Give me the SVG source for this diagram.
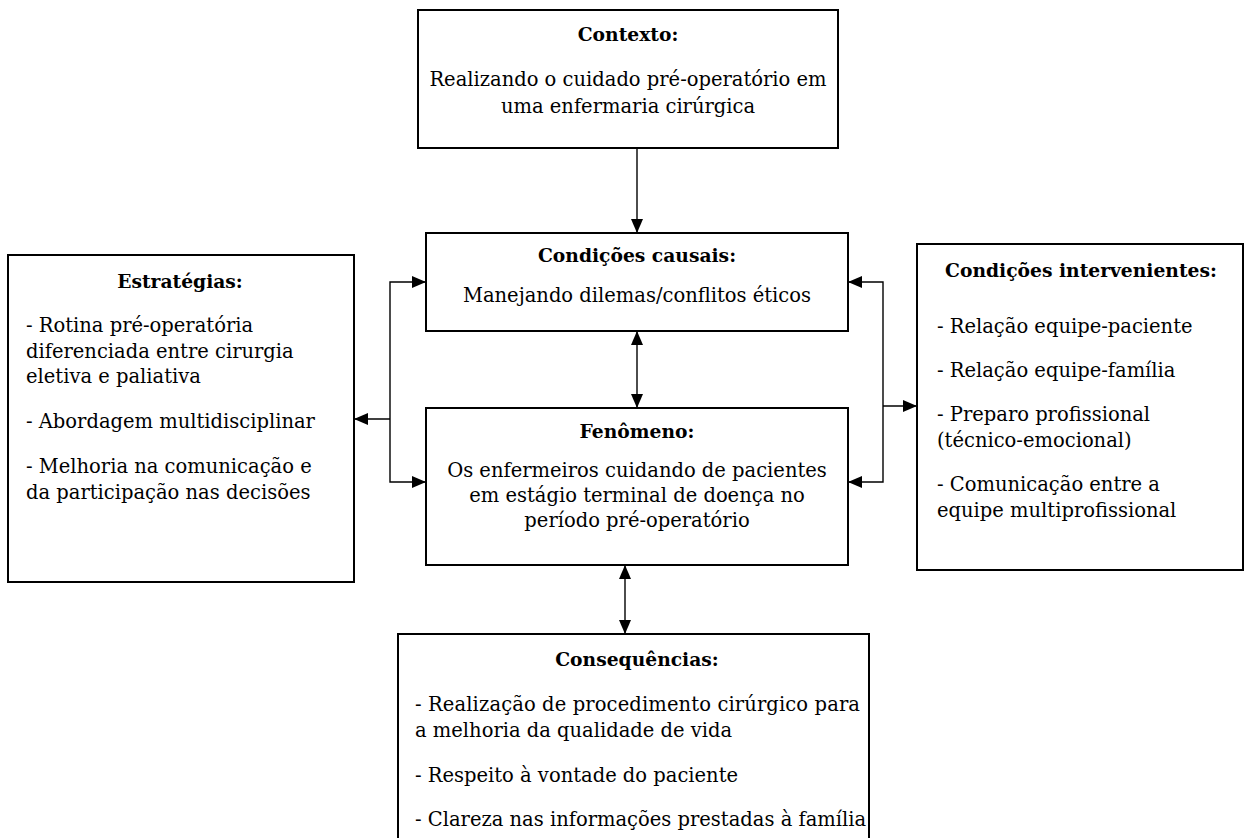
<svg xmlns="http://www.w3.org/2000/svg" width="1246" height="838" viewBox="0 0 1246 838">
<style>
.box{fill:#fff;stroke:#000;stroke-width:2}
.t{font-family:"DejaVu Serif","Liberation Serif",serif;font-size:19.5px;fill:#000}
.b{font-weight:bold;font-size:18.7px}
.c{text-anchor:middle}
.ln{fill:none;stroke:#000;stroke-width:1.4}
</style>
<defs>
<marker id="ah" markerUnits="userSpaceOnUse" markerWidth="14" markerHeight="12" refX="14" refY="6" orient="auto-start-reverse">
<path d="M0,0 L14,6 L0,12 Z" fill="#000"/>
</marker>
</defs>
<rect width="1246" height="838" fill="#fff"/>
<g id="connectors">
<line class="ln" x1="637" y1="148" x2="637" y2="233" marker-end="url(#ah)"/>
<line class="ln" x1="637" y1="331" x2="637" y2="408" marker-start="url(#ah)" marker-end="url(#ah)"/>
<line class="ln" x1="625" y1="565" x2="625" y2="634" marker-start="url(#ah)" marker-end="url(#ah)"/>
<path class="ln" d="M426,282 H390 V482 H426" marker-start="url(#ah)" marker-end="url(#ah)"/>
<line class="ln" x1="390" y1="419" x2="354" y2="419" marker-end="url(#ah)"/>
<path class="ln" d="M848,282 H883 V482 H848" marker-start="url(#ah)" marker-end="url(#ah)"/>
<line class="ln" x1="883" y1="406" x2="917" y2="406" marker-end="url(#ah)"/>
</g>
<g id="contexto">
<rect class="box" x="418" y="10" width="420" height="138"/>
<text class="t b c" x="628" y="41">Contexto:</text>
<text class="t c" x="628" y="86">Realizando o cuidado pré-operatório em</text>
<text class="t c" x="628" y="113">uma enfermaria cirúrgica</text>
</g>
<g id="causais">
<rect class="box" x="426" y="233" width="422" height="98"/>
<text class="t b c" x="637" y="262">Condições causais:</text>
<text class="t c" x="637" y="302">Manejando dilemas/conflitos éticos</text>
</g>
<g id="fenomeno">
<rect class="box" x="426" y="408" width="422" height="157"/>
<text class="t b c" x="637" y="438">Fenômeno:</text>
<text class="t c" x="637" y="477">Os enfermeiros cuidando de pacientes</text>
<text class="t c" x="637" y="502">em estágio terminal de doença no</text>
<text class="t c" x="637" y="527">período pré-operatório</text>
</g>
<g id="estrategias">
<rect class="box" x="8" y="255" width="346" height="327"/>
<text class="t b c" x="180" y="288">Estratégias:</text>
<text class="t" x="26" y="332">- Rotina pré-operatória</text>
<text class="t" x="26" y="357.5">diferenciada entre cirurgia</text>
<text class="t" x="26" y="383">eletiva e paliativa</text>
<text class="t" x="26" y="428">- Abordagem multidisciplinar</text>
<text class="t" x="26" y="473">- Melhoria na comunicação e</text>
<text class="t" x="26" y="498.5">da participação nas decisões</text>
</g>
<g id="intervenientes">
<rect class="box" x="917" y="244" width="326" height="326"/>
<text class="t b c" x="1081" y="277">Condições intervenientes:</text>
<text class="t" x="937" y="333">- Relação equipe-paciente</text>
<text class="t" x="937" y="377">- Relação equipe-família</text>
<text class="t" x="937" y="421">- Preparo profissional</text>
<text class="t" x="937" y="446.5">(técnico-emocional)</text>
<text class="t" x="937" y="491">- Comunicação entre a</text>
<text class="t" x="937" y="516.5">equipe multiprofissional</text>
</g>
<g id="consequencias">
<rect class="box" x="398" y="634" width="471" height="220"/>
<text class="t b c" x="637" y="666">Consequências:</text>
<text class="t" x="415" y="711" textLength="445" lengthAdjust="spacing">- Realização de procedimento cirúrgico para</text>
<text class="t" x="415" y="737">a melhoria da qualidade de vida</text>
<text class="t" x="415" y="782">- Respeito à vontade do paciente</text>
<text class="t" x="415" y="826">- Clareza nas informações prestadas à família</text>
</g>
</svg>
